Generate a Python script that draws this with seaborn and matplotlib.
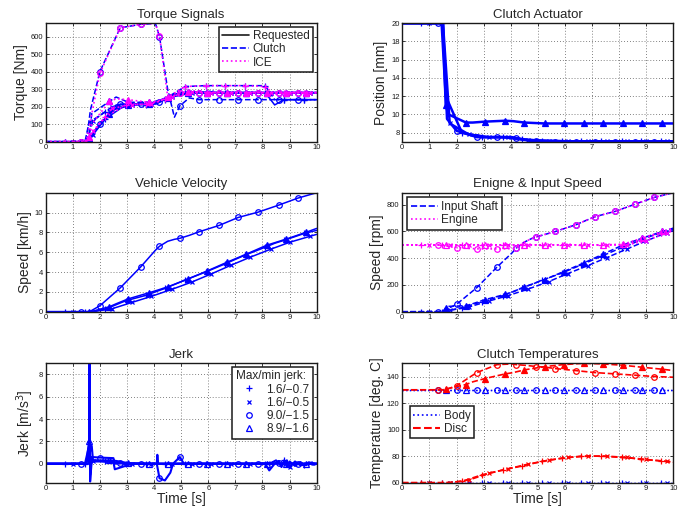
import numpy as np
import matplotlib
matplotlib.use('Agg')
import matplotlib.pyplot as plt
from matplotlib.lines import Line2D
import seaborn as sns


# sample times where each test run carries a marker
MARKS = {
    '+': [0.7, 1.45, 2.2, 2.95, 3.7, 4.4, 5.15, 5.9, 6.6, 7.35, 8.1, 8.8, 9.55],
    'x': [1.0, 1.75, 2.45, 3.2, 3.9, 4.65, 5.4, 6.1, 6.85, 7.55, 8.3, 9.0, 9.75],
    'o': [1.3, 2.0, 2.75, 3.5, 4.2, 4.95, 5.65, 6.4, 7.1, 7.85, 8.6, 9.3],
    '^': [1.6, 2.35, 3.05, 3.8, 4.5, 5.25, 5.95, 6.7, 7.4, 8.15, 8.85, 9.6],
}

# run A (+)
T_A = [0, 0.7, 1.45, 1.6, 2.2, 2.95, 3.7, 4.4, 5.15, 5.9, 6.6, 7.35, 8.1, 8.45, 8.8, 9.55, 10]
TRQ_REQ_A = [0, 0, 0, 20, 130, 210, 212, 240, 280, 280, 280, 280, 280, 210, 240, 240, 240]
TRQ_CL_A = [0, 0, 0, 110, 170, 210, 215, 245, 315, 320, 320, 320, 320, 240, 240, 240, 240]
TRQ_ICE_A = [0, 0, 0, 30, 140, 210, 215, 245, 315, 320, 320, 320, 315, 270, 280, 280, 280]
POS_A = [20, 20, 20, 12, 8.0, 7.5, 7.5, 7.25, 7.1, 7.05, 7.05, 7.05, 7.05, 7.05, 7.05, 7.05, 7.05]
VEL_A = [0, 0, 0, 0, 0.25, 1.1, 1.65, 2.35, 3.2, 4.0, 4.8, 5.7, 6.5, 6.9, 7.2, 7.9, 8.2]
IN_A = [0, 0, 0, 5, 30, 75, 120, 175, 235, 290, 350, 415, 480, 505, 540, 590, 615]
ENG_A = [500, 500, 500, 500, 500, 500, 500, 500, 500, 500, 500, 500, 500, 510, 540, 590, 615]
BODY_A = [60, 60, 60, 60, 60, 60, 60, 60, 60, 60, 60, 60, 60, 60, 60, 60, 60]
DISC_A = [60, 60, 60, 60, 61, 66, 69.5, 72.5, 76, 78.5, 80, 80, 79, 78.5, 77.5, 76.5, 75.5]
TJ_A = [0, 0.7, 1.45, 1.6, 1.65, 1.75, 2.2, 2.95, 3.7, 4.4, 5.15, 5.9, 6.6, 7.35, 8.1, 8.25,
        8.45, 8.6, 8.7, 8.8, 8.9, 9.0, 9.2, 9.4, 9.55, 9.7, 9.9, 10]
JERK_A = [0, 0, 0, 1.6, 0.4, 0.3, 0.2, 0, 0, 0, 0, 0, 0, 0, 0, -0.6,
          0, 0.25, -0.3, 0.3, -0.3, 0.2, -0.2, 0.15, -0.1, 0.1, -0.1, 0]

# run B (x)
T_B = [0, 1.0, 1.5, 1.75, 2.45, 3.2, 3.9, 4.65, 5.4, 6.1, 6.85, 7.55, 8.3, 9.0, 9.75, 10]
TRQ_REQ_B = [0, 0, 0, 40, 180, 210, 215, 255, 280, 280, 280, 280, 280, 280, 280, 280]
TRQ_CL_B = [0, 0, 0, 120, 200, 215, 218, 260, 285, 282, 280, 280, 280, 280, 280, 280]
TRQ_ICE_B = [0, 0, 0, 60, 190, 212, 216, 258, 283, 280, 280, 280, 280, 280, 280, 280]
POS_B = [20, 20, 20, 9.0, 7.8, 7.5, 7.5, 7.2, 7.1, 7.05, 7.05, 7.05, 7.05, 7.05, 7.05, 7.05]
VEL_B = [0, 0, 0, 0, 0.3, 0.95, 1.55, 2.25, 3.0, 3.8, 4.7, 5.5, 6.3, 7.0, 7.6, 7.8]
IN_B = [0, 0, 0, 10, 35, 80, 120, 170, 225, 285, 345, 405, 470, 530, 590, 605]
ENG_B = [500, 500, 500, 500, 500, 500, 500, 500, 500, 500, 500, 500, 500, 530, 590, 605]
BODY_B = [60, 60, 60, 60, 60, 60, 60, 60, 60, 60, 60, 60, 60, 60, 60, 60]
DISC_B = [60, 60, 60, 60, 62, 67, 70.5, 74, 77, 79, 80, 80, 79, 77.5, 76, 75.5]
TJ_B = [0, 1.0, 1.5, 1.7, 1.75, 2.45, 2.5, 2.55, 3.2, 3.9, 4.65, 5.4, 6.1, 6.85, 7.55, 8.3,
        8.5, 8.7, 8.9, 9.0, 9.2, 9.4, 9.75, 10]
JERK_B = [0, 0, 0, 1.6, 0.2, 0.2, 0.15, -0.5, 0, 0, 0, 0, 0, 0, 0, 0.05,
          0.3, -0.2, 0.3, -0.3, 0.2, -0.15, 0.1, 0]

# run C (o)
T_C = [0, 1.3, 1.5, 1.65, 2.0, 2.75, 3.5, 4.05, 4.2, 4.5, 4.75, 4.95, 5.3, 5.65, 6.4, 7.1,
       7.85, 8.6, 9.3, 10]
TRQ_REQ_C = [0, 0, 0, 30, 100, 215, 215, 215, 225, 250, 270, 280, 280, 280, 280, 280,
             280, 280, 280, 280]
TRQ_CL_C = [0, 0, 0, 180, 400, 650, 670, 675, 600, 300, 140, 205, 250, 240, 240, 240,
            240, 240, 240, 240]
TRQ_ICE_C = [0, 0, 0, 120, 390, 650, 670, 675, 605, 260, 255, 280, 285, 280, 280, 280,
             280, 280, 280, 280]
POS_C = [20, 20, 20, 9.5, 8.2, 7.5, 7.5, 7.5, 7.4, 7.2, 7.1, 7.05, 7.0, 7.0, 7.0, 7.0,
         7.0, 7.0, 7.0, 7.0]
VEL_C = [0, 0, 0, 0.05, 0.6, 2.4, 4.5, 6.2, 6.6, 7.1, 7.3, 7.4, 7.7, 8.05, 8.7, 9.5,
         10.05, 10.75, 11.45, 12.0]
IN_C = [0, 0, 5, 20, 55, 180, 335, 440, 475, 520, 545, 560, 580, 600, 650, 710,
        750, 805, 855, 890]
ENG_C = [500, 500, 495, 490, 480, 470, 470, 472, 475, 520, 545, 560, 580, 600, 650, 710,
         750, 805, 855, 890]
BODY_C = [130, 130, 130, 130, 130, 130, 130, 130, 130, 130, 130, 130, 130, 130, 130, 130,
          130, 130, 130, 130]
DISC_C = [130, 130, 130, 130.5, 133, 143, 149, 149.5, 149, 148.5, 148, 147.5, 147, 146,
          144.5, 143, 142, 141, 140, 139.5]
TJ_C = [0, 1.3, 1.6, 1.62, 1.64, 1.7, 2.0, 2.5, 2.55, 2.75, 3.5, 4.1, 4.2, 4.4, 4.6, 4.7,
        4.95, 5.1, 5.65, 6.4, 7.1, 7.85, 8.6, 9.3, 10]
JERK_C = [0, 0, 0, 9.0, -1.0, 0.6, 0.55, 0.5, 0, 0.05, 0, 0, -1.3, -1.5, -0.8, 0,
          0.6, 0, 0, 0, 0, 0, 0.05, 0, 0]

# run D (^)
T_D = [0, 1.5, 1.6, 1.7, 2.35, 2.6, 3.05, 3.8, 4.1, 4.5, 5.25, 5.95, 6.7, 7.4, 8.15, 8.85,
       9.6, 10]
TRQ_REQ_D = [0, 0, 15, 45, 160, 210, 212, 215, 218, 250, 280, 280, 280, 280, 280, 280, 280, 280]
TRQ_CL_D = [0, 0, 20, 160, 230, 255, 225, 225, 230, 255, 285, 280, 280, 280, 280, 280, 280, 280]
TRQ_ICE_D = [0, 0, 25, 100, 230, 245, 240, 225, 225, 255, 285, 280, 280, 280, 280, 280, 280, 280]
POS_D = [20, 20, 11, 10, 9.1, 9.1, 9.2, 9.3, 9.25, 9.1, 9.0, 9.0, 9.0, 9.0, 9.0, 9.0, 9.0, 9.0]
VEL_D = [0, 0, 0, 0.02, 0.5, 0.8, 1.3, 1.9, 2.15, 2.5, 3.3, 4.1, 5.0, 5.8, 6.7, 7.3, 8.0, 8.4]
IN_D = [0, 0, 30, 40, 45, 60, 90, 130, 150, 185, 240, 300, 365, 430, 500, 550, 600, 625]
ENG_D = [500, 500, 500, 500, 500, 500, 500, 500, 500, 500, 500, 500, 500, 500, 505, 550, 600, 625]
BODY_D = [130, 130, 130, 130, 130, 130, 130, 130, 130, 130, 130, 130, 130, 130, 130, 130, 130, 130]
DISC_D = [130, 130, 130.5, 131, 134, 136, 138.5, 142, 143, 145, 147.5, 149, 150, 149.5, 148.5,
          147, 145.5, 144.5]
TJ_D = [0, 1.5, 1.6, 1.62, 1.64, 1.7, 2.35, 2.6, 3.05, 3.8, 4.1, 4.12, 4.15, 4.5, 5.25, 5.95,
        6.7, 7.4, 8.15, 8.85, 9.6, 10]
JERK_D = [0, 0, 2.0, 8.9, -1.6, 0.3, 0.3, 0.25, 0.05, 0, 0, 0.8, 0, 0, 0, 0,
          0, 0, 0, 0, 0, 0]

JERK_LABELS = ['1.6/\u22120.7', '1.6/\u22120.5', '9.0/\u22121.5', '8.9/\u22121.6']

RUNS = [
    ('+', T_A, TRQ_REQ_A, TRQ_CL_A, TRQ_ICE_A, POS_A, VEL_A, IN_A, ENG_A, BODY_A, DISC_A, TJ_A, JERK_A),
    ('x', T_B, TRQ_REQ_B, TRQ_CL_B, TRQ_ICE_B, POS_B, VEL_B, IN_B, ENG_B, BODY_B, DISC_B, TJ_B, JERK_B),
    ('o', T_C, TRQ_REQ_C, TRQ_CL_C, TRQ_ICE_C, POS_C, VEL_C, IN_C, ENG_C, BODY_C, DISC_C, TJ_C, JERK_C),
    ('^', T_D, TRQ_REQ_D, TRQ_CL_D, TRQ_ICE_D, POS_D, VEL_D, IN_D, ENG_D, BODY_D, DISC_D, TJ_D, JERK_D),
]

BLUE = '#0000ff'
MAG = '#ff00ff'
RED = '#ff0000'
MSIZE = {'+': 5, 'x': 3.5, 'o': 4, '^': 4}

sns.set_theme(style='ticks')
plt.rcParams['font.family'] = ['Liberation Sans', 'DejaVu Sans']
plt.rcParams.update({
    'axes.edgecolor': 'k', 'axes.linewidth': 1.0,
    'xtick.direction': 'in', 'ytick.direction': 'in',
    'xtick.top': True, 'ytick.right': True,
    'xtick.major.size': 2.5, 'ytick.major.size': 2.5,
    'xtick.major.width': 0.6, 'ytick.major.width': 0.6,
    'xtick.labelsize': 5.5, 'ytick.labelsize': 5.5,
    'xtick.major.pad': 2, 'ytick.major.pad': 2,
    'xtick.color': 'k', 'ytick.color': 'k',
})


def draw(ax, t, y, mk, color, ls='-', lw=1.0, filled=False):
    # only the triangles are drawn solid, circles stay open
    mask = list(np.isin(t, MARKS[mk]))
    face = color if (filled and mk == '^') else 'none'
    sns.lineplot(x=t, y=y, ax=ax, color=color, linestyle=ls, linewidth=lw,
                 marker=mk, markevery=mask, markersize=MSIZE[mk],
                 markerfacecolor=face, mec=color, mew=0.9,
                 legend=False, estimator=None, sort=False)


def style_axis(ax, title, ylabel, ylim, yticks, xlabel=None):
    ax.set_xlim(0, 10)
    ax.set_ylim(*ylim)
    ax.set_xticks(range(0, 11))
    ax.set_yticks(yticks)
    ax.grid(True, ls=(0, (1, 2.5)), color='0.35', lw=0.6)
    ax.set_title(title, fontsize=9.5, pad=4)
    ax.set_ylabel(ylabel, fontsize=10, labelpad=2)
    ax.set_xlabel(xlabel if xlabel else '', fontsize=10, labelpad=0)
    for sp in ax.spines.values():
        sp.set_visible(True)
        sp.set_color('k')


def legend(ax, handles, labels, **kw):
    leg = ax.legend(handles, labels, fontsize=8.5, frameon=True, fancybox=False,
                    framealpha=1, edgecolor='k', borderpad=0.3, labelspacing=0.1,
                    handlelength=2.3, handletextpad=0.3, **kw)
    leg.get_frame().set_linewidth(1.1)
    return leg


fig = plt.figure(figsize=(6.91, 5.09), dpi=100)
W, H = 0.3922, 0.233
ax_trq = fig.add_axes([0.0661, 0.7216, W, H])
ax_pos = fig.add_axes([0.5822, 0.7216, W, H])
ax_vel = fig.add_axes([0.0661, 0.3876, W, 0.2338])
ax_spd = fig.add_axes([0.5822, 0.3876, W, 0.2338])
ax_jrk = fig.add_axes([0.0661, 0.0517, W, 0.2346])
ax_tmp = fig.add_axes([0.5822, 0.0517, W, 0.2346])

for mk, t, req, cl, ice, pos, vel, inp, eng, body, disc, tj, jerk in RUNS:
    draw(ax_trq, t, req, mk, BLUE, '-', 1.1, filled=True)
    draw(ax_trq, t, cl, mk, BLUE, '--', 1.1, filled=True)
    draw(ax_pos, t, pos, mk, BLUE, '-', 1.8, filled=True)
    draw(ax_vel, t, vel, mk, BLUE, '-', 1.1, filled=True)
    draw(ax_spd, t, inp, mk, BLUE, '--', 1.1, filled=True)
    draw(ax_jrk, tj, jerk, mk, BLUE, '-', 1.5)
    draw(ax_tmp, t, body, mk, BLUE, ':', 1.0)
    draw(ax_tmp, t, disc, mk, RED, '--', 1.2, filled=True)
for mk, t, req, cl, ice, pos, vel, inp, eng, body, disc, tj, jerk in RUNS:
    draw(ax_trq, t, ice, mk, MAG, ':', 1.2, filled=True)
    draw(ax_spd, t, eng, mk, MAG, ':', 1.2)

style_axis(ax_trq, 'Torque Signals', 'Torque [Nm]', (0, 677), range(0, 700, 100))
style_axis(ax_pos, 'Clutch Actuator', 'Position [mm]', (7.0, 20), range(8, 22, 2))
style_axis(ax_vel, 'Vehicle Velocity', 'Speed [km/h]', (0, 12), range(0, 12, 2))
style_axis(ax_spd, 'Enigne & Input Speed', 'Speed [rpm]', (0, 890), range(0, 1000, 200))
style_axis(ax_jrk, 'Jerk', 'Jerk [m/s$^3$]', (-1.7, 9.0), range(0, 10, 2), 'Time [s]')
style_axis(ax_tmp, 'Clutch Temperatures', 'Temperature [deg. C]', (60, 150),
           range(60, 160, 20), 'Time [s]')

legend(ax_trq,
       [Line2D([], [], color='k', lw=1.2), Line2D([], [], color=BLUE, ls='--', lw=1.2),
        Line2D([], [], color=MAG, ls=':', lw=1.2)],
       ['Requested', 'Clutch', 'ICE'], loc='upper right', borderaxespad=0.3)
legend(ax_spd,
       [Line2D([], [], color=BLUE, ls='--', lw=1.2), Line2D([], [], color=MAG, ls=':', lw=1.2)],
       ['Input Shaft', 'Engine'], loc='upper left', borderaxespad=0.4)
legend(ax_tmp,
       [Line2D([], [], color=BLUE, ls=':', lw=1.2), Line2D([], [], color=RED, ls='--', lw=1.5)],
       ['Body', 'Disc'], loc='upper left', bbox_to_anchor=(0.005, 0.69))

jerk_handles = [Line2D([], [], ls='none', marker=mk, color=BLUE, mfc='none', ms=MSIZE[mk], mew=0.9)
                for mk in MARKS]
leg = legend(ax_jrk, jerk_handles, JERK_LABELS, loc='upper right', borderaxespad=0.3,
             title='Max/min jerk:', title_fontsize=8.5)
leg._legend_box.align = 'left'

fig.savefig('out.png', dpi=100)
